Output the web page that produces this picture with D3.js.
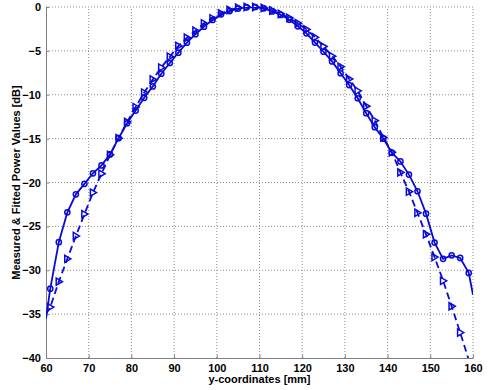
<!DOCTYPE html>
<meta charset="utf-8">
<style>
body { margin: 0; background: #fff; }
.grid line {
  stroke: #8c8c8c;
  stroke-dasharray: 1,2;
  stroke-width: 1px;
}
.axis path, .axis line {
  stroke: #808080;
  stroke-width: 1px;
}
.axis text {
  font: bold 11px "Liberation Sans", Arial, sans-serif;
  fill: #000;
}
.title {
  font: bold 11px "Liberation Sans", Arial, sans-serif;
  fill: #000;
}
.curve {
  fill: none;
  stroke: #0a0ad8;
  stroke-width: 1.8px;
}
.curve--fit {
  stroke-dasharray: 7,4;
}
.marker {
  fill: none;
  stroke: #0a0ad8;
  stroke-width: 1.5px;
}
</style>
<body>
<script src="https://cdn.jsdelivr.net/npm/d3@7"></script>
<script>

// marker positions (odd mm) and the two series
var yCoord = [61, 63, 65, 67, 69, 71, 73, 75, 77, 79,
              81, 83, 85, 87, 89, 91, 93, 95, 97, 99,
              101, 103, 105, 107, 109, 111, 113, 115, 117, 119,
              121, 123, 125, 127, 129, 131, 133, 135, 137, 139,
              141, 143, 145, 147, 149, 151, 153, 155, 157, 159];

var measured = [-32.1, -26.8, -23.4, -21.35, -20.15, -18.95, -18.05, -16.8, -14.95, -13.25,
                -11.8, -10.35, -9.05, -7.6, -6.38, -5.2, -4.07, -3.1, -2.24, -1.48,
                -0.83, -0.46, -0.18, -0.04, 0, -0.15, -0.5, -0.9, -1.45, -2.2,
                -3.0, -4.05, -5.1, -6.2, -7.55, -8.9, -10.4, -12.1, -13.7, -15.0,
                -16.6, -17.6, -19.1, -21.0, -23.55, -26.85, -28.7, -28.3, -28.6, -30.3];

var fitted = [-34.2, -31.3, -28.7, -26.1, -23.6, -21.15, -19.0, -16.85, -14.95, -13.1,
              -11.4, -9.75, -8.25, -6.9, -5.66, -4.44, -3.5, -2.7, -1.86, -1.29,
              -0.72, -0.34, -0.08, 0, 0, -0.1, -0.4, -0.8, -1.25, -1.85,
              -2.55, -3.45, -4.5, -5.6, -6.8, -8.2, -9.55, -11.3, -12.95, -14.85,
              -16.55, -18.85, -21.05, -23.45, -25.9, -28.5, -31.2, -34.1, -37.1, -40.2];

// line ends at the axis limits (no markers there)
var edgeX = [60, 160];
var measuredEdge = [-35.5, -32.8];
var fittedEdge = [-35.0, null];

var xTicks = [60, 70, 80, 90, 100, 110, 120, 130, 140, 150, 160];
var yTicks = [0, -5, -10, -15, -20, -25, -30, -35, -40];

var width = 490,
    height = 390,
    margin = {left: 46, right: 17, top: 7, bottom: 32};

var svg = d3.select("body").append("svg")
    .attr("width", width)
    .attr("height", height);

var x = d3.scaleLinear().domain([60, 160]).range([margin.left, width - margin.right]);
var y = d3.scaleLinear().domain([-40, 0]).range([height - margin.bottom, margin.top]);

svg.append("clipPath").attr("id", "plot")
  .append("rect")
    .attr("x", x(60)).attr("y", y(0))
    .attr("width", x(160) - x(60)).attr("height", y(-40) - y(0));

// dotted grid
var grid = svg.append("g").attr("class", "grid");
grid.selectAll(".gx").data(xTicks.slice(1))
  .enter().append("line")
    .attr("x1", d => x(d)).attr("x2", d => x(d))
    .attr("y1", y(-40)).attr("y2", y(0));
grid.selectAll(".gy").data(yTicks.slice(0, -1))
  .enter().append("line")
    .attr("x1", x(60)).attr("x2", x(160))
    .attr("y1", d => y(d)).attr("y2", d => y(d));

// axes (left + bottom only)
svg.append("g").attr("class", "axis")
    .attr("transform", "translate(0," + y(-40) + ")")
    .call(d3.axisBottom(x).tickValues(xTicks).tickSize(-3).tickPadding(6).tickSizeOuter(0));
svg.append("g").attr("class", "axis")
    .attr("transform", "translate(" + x(60) + ",0)")
    .call(d3.axisLeft(y).tickValues(yTicks).tickSize(-3).tickPadding(5).tickSizeOuter(0));

function series(vals, edge) {
  var pts = yCoord.map((d, i) => [d, vals[i]]);
  if (edge[0] != null) pts.unshift([edgeX[0], edge[0]]);
  if (edge[1] != null) pts.push([edgeX[1], edge[1]]);
  return pts;
}

var line = d3.line().x(d => x(d[0])).y(d => y(d[1]));

var plot = svg.append("g").attr("clip-path", "url(#plot)");

plot.append("path")
    .attr("class", "curve curve--fit")
    .attr("d", line(series(fitted, fittedEdge)));
plot.append("path")
    .attr("class", "curve")
    .attr("d", line(series(measured, measuredEdge)));

var inside = (v) => v >= -40 && v <= 0.5;

svg.append("g").selectAll("path")
    .data(yCoord.map((d, i) => [d, fitted[i]]).filter(d => inside(d[1])))
  .enter().append("path")
    .attr("class", "marker")
    .attr("transform", d => "translate(" + x(d[0]) + "," + y(d[1]) + ")")
    .attr("d", "M3.6,0L-2.6,-3.6L-2.6,3.6Z");

svg.append("g").selectAll("circle")
    .data(yCoord.map((d, i) => [d, measured[i]]))
  .enter().append("circle")
    .attr("class", "marker")
    .attr("cx", d => x(d[0]))
    .attr("cy", d => y(d[1]))
    .attr("r", 2.6);

svg.append("text")
    .attr("class", "title")
    .attr("x", (x(60) + x(160)) / 2)
    .attr("y", 383)
    .attr("text-anchor", "middle")
    .text("y-coordinates [mm]");

svg.append("text")
    .attr("class", "title")
    .attr("transform", "translate(20," + (y(0) + y(-40)) / 2 + ") rotate(-90)")
    .attr("text-anchor", "middle")
    .text("Measured & Fitted Power Values [dB]");

</script>
</body>
</html>
